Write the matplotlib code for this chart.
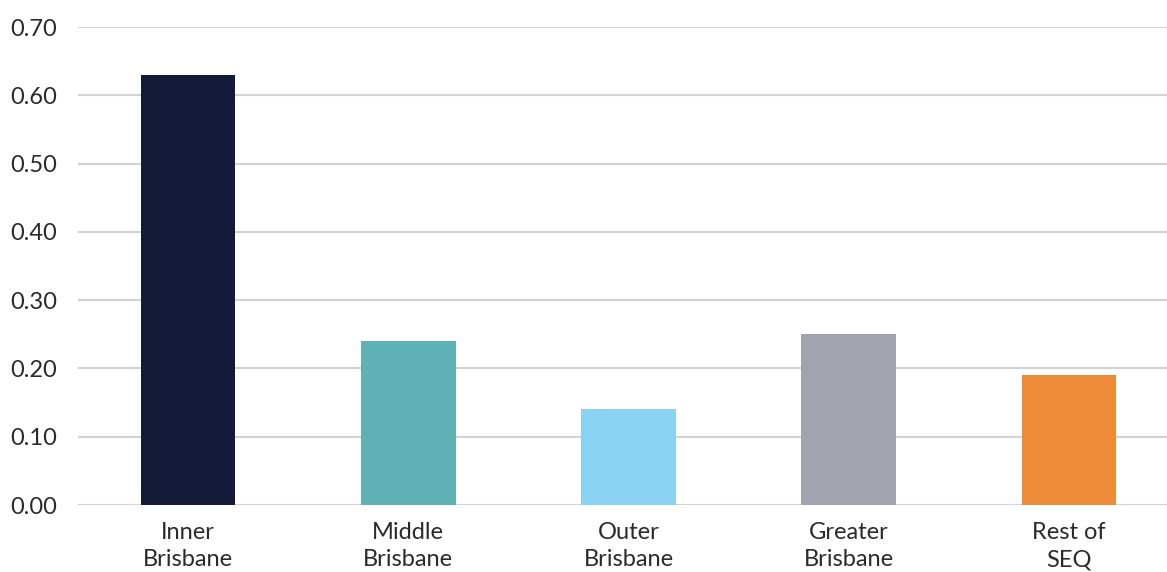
import matplotlib
matplotlib.use("Agg")
import matplotlib.pyplot as plt

categories = ["Inner\nBrisbane", "Middle\nBrisbane", "Outer\nBrisbane", "Greater\nBrisbane", "Rest of\nSEQ"]
values = [0.63, 0.24, 0.14, 0.25, 0.19]
colors = ["#141B38", "#5EB1B5", "#8AD2F2", "#A2A3AF", "#EE8B38"]
yticks = [0.0, 0.1, 0.2, 0.3, 0.4, 0.5, 0.6, 0.7]

plt.rcParams["font.family"] = ["Lato", "DejaVu Sans"]

W, H = 1167, 572
fig = plt.figure(figsize=(W / 100, H / 100), dpi=100)
left, right, bottom, top = 78, 1179, 505, 27
ax = fig.add_axes([left / W, (H - bottom) / H, (right - left) / W, (bottom - top) / H])

x = list(range(len(categories)))
ax.bar(x, values, width=0.43, color=colors, zorder=3)

ax.set_xlim(-0.5, len(categories) - 0.5)
ax.set_ylim(0, 0.70)
ax.set_yticks(yticks)
ax.set_yticklabels([f"{v:.2f}" for v in yticks])
ax.set_xticks(x)
ax.set_xticklabels(categories, linespacing=1.4)

ax.grid(axis="y", color="#D3D3D6", linewidth=1.6, zorder=0)
ax.set_axisbelow(True)
for s in ax.spines.values():
    s.set_visible(False)
ax.tick_params(axis="both", length=0, labelsize=17, labelcolor="#2A2A2A")
ax.tick_params(axis="y", pad=15)
ax.tick_params(axis="x", pad=12)

fig.savefig("out.png", dpi=100)
